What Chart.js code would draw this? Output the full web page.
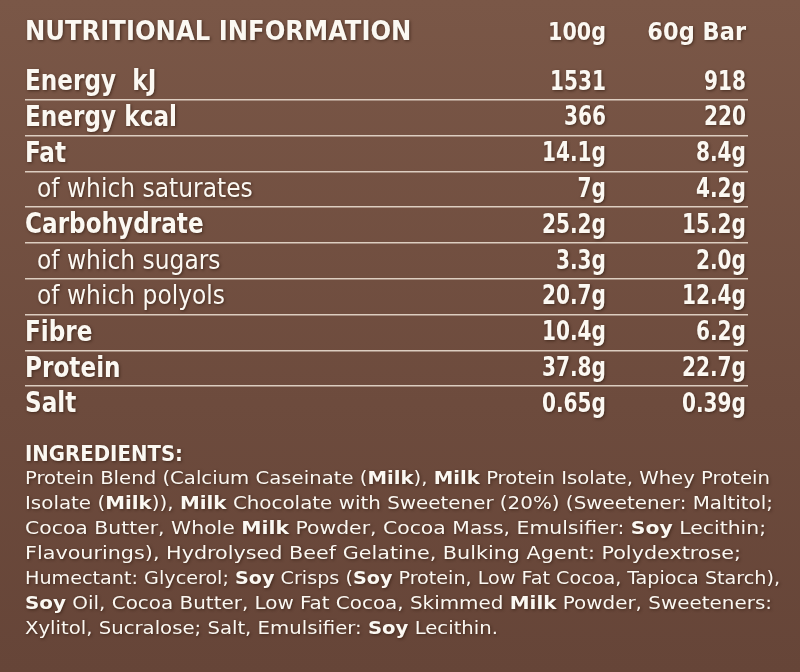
<!DOCTYPE html>
<html><head><meta charset="utf-8">
<script src="https://cdn.jsdelivr.net/npm/chart.js@4"></script>
<style>
html,body{margin:0;padding:0;background:#6f4e40;}
#wrap{width:800px;height:672px;background:linear-gradient(#7a5747,#6d4b3d 60%,#664538);}
</style></head><body>
<div id="wrap"><canvas id="c" width="800" height="672"></canvas></div>
<script>
const title = "NUTRITIONAL INFORMATION";
const colHeaders = ["100g", "60g Bar"];
const rowLabels = ["Energy  kJ","Energy kcal","Fat","of which saturates","Carbohydrate","of which sugars","of which polyols","Fibre","Protein","Salt"];
const boldRows = [true,true,true,false,true,false,false,true,true,true];
const per100g = ["1531","366","14.1g","7g","25.2g","3.3g","20.7g","10.4g","37.8g","0.65g"];
const perBar = ["918","220","8.4g","4.2g","15.2g","2.0g","12.4g","6.2g","22.7g","0.39g"];
const ingredientsTitle = "INGREDIENTS:";
const ingredientLines = [
  "Protein Blend (Calcium Caseinate (**Milk**), **Milk** Protein Isolate, Whey Protein",
  "Isolate (**Milk**)), **Milk** Chocolate with Sweetener (20%) (Sweetener: Maltitol;",
  "Cocoa Butter, Whole **Milk** Powder, Cocoa Mass, Emulsifier: **Soy** Lecithin;",
  "Flavourings), Hydrolysed Beef Gelatine, Bulking Agent: Polydextrose;",
  "Humectant: Glycerol; **Soy** Crisps (**Soy** Protein, Low Fat Cocoa, Tapioca Starch),",
  "**Soy** Oil, Cocoa Butter, Low Fat Cocoa, Skimmed **Milk** Powder, Sweeteners:",
  "Xylitol, Sucralose; Salt, Emulsifier: **Soy** Lecithin."
];
const lineRight = [770,773,766,741,780,772,498];

const COND = '"DejaVu Sans Condensed","DejaVu Sans",sans-serif';
const white = "#fbf8f2";

function shadowText(ctx, txt, x, y){
  ctx.save();
  ctx.shadowColor = "rgba(40,20,10,0.6)";
  ctx.shadowBlur = 3; ctx.shadowOffsetX = 1; ctx.shadowOffsetY = 1;
  ctx.fillText(txt, x, y);
  ctx.restore();
}
function squeezed(ctx, txt, x, y, w, align){
  const m = ctx.measureText(txt).width;
  const s = Math.min(1, w / m);
  ctx.save();
  ctx.translate(x, y); ctx.scale(s, 1);
  ctx.textAlign = align;
  shadowText(ctx, txt, 0, 0);
  ctx.restore();
}

const tablePlugin = {
  id: "tableText",
  afterDraw(chart){
    const ctx = chart.ctx, ys = chart.scales.y;
    ctx.save();
    ctx.fillStyle = white;
    ctx.textBaseline = "middle";
    ctx.font = "bold 27px " + COND;
    squeezed(ctx, title, 25, 33, 392, "left");
    ctx.font = "bold 25px " + COND;
    squeezed(ctx, colHeaders[0], 606, 33, 58, "right");
    squeezed(ctx, colHeaders[1], 746, 33, 100, "right");
    rowLabels.forEach((lab, i) => {
      const y = ys.getPixelForValue(i) + 1;
      ctx.font = (boldRows[i] ? "bold 28px " : "26px ") + COND;
      const lw = ctx.measureText(lab).width;
      squeezed(ctx, lab, boldRows[i] ? 25 : 37, y, lw * (boldRows[i] ? 0.92 : 1), "left");
      ctx.font = "bold 26px " + COND;
      const w1 = ctx.measureText(per100g[i]).width, w2 = ctx.measureText(perBar[i]).width;
      squeezed(ctx, per100g[i], 606, y, w1 * 0.86, "right");
      squeezed(ctx, perBar[i], 746, y, w2 * 0.86, "right");
    });
    ctx.font = "bold 22px " + COND;
    squeezed(ctx, ingredientsTitle, 25, 455, 158, "left");
    ingredientLines.forEach((ln, i) => {
      const y = 479 + i * 25;
      const parts = ln.split("**");
      let total = 0;
      parts.forEach((p, k) => { ctx.font = (k % 2 ? "bold " : "") + "18px " + COND; total += ctx.measureText(p).width; });
      const s = (lineRight[i] - 25) / total;
      ctx.save(); ctx.translate(25, y); ctx.scale(s, 1); ctx.textAlign = "left";
      let x = 0;
      parts.forEach((p, k) => { ctx.font = (k % 2 ? "bold " : "") + "18px " + COND; shadowText(ctx, p, x, 0); x += ctx.measureText(p).width; });
      ctx.restore();
    });
    ctx.restore();
  }
};

new Chart(document.getElementById("c"), {
  type: "scatter",
  data: { datasets: [{ data: [], pointRadius: 0 }] },
  options: {
    responsive: false, animation: false,
    layout: { padding: { top: 64, bottom: 250, left: 25, right: 52 } },
    plugins: { legend: { display: false }, tooltip: { enabled: false } },
    scales: {
      x: { type: "linear", min: 0, max: 1, display: false },
      y: {
        type: "category", labels: rowLabels, offset: true,
        ticks: { display: false },
        border: { display: false },
        grid: {
          offset: true, drawTicks: false, lineWidth: 1.6,
          color: c => (c.index == null || c.index === 0 || c.index >= rowLabels.length) ? "rgba(0,0,0,0)" : "rgba(240,228,215,0.85)"
        }
      }
    }
  },
  plugins: [tablePlugin]
});
</script>
</body></html>
